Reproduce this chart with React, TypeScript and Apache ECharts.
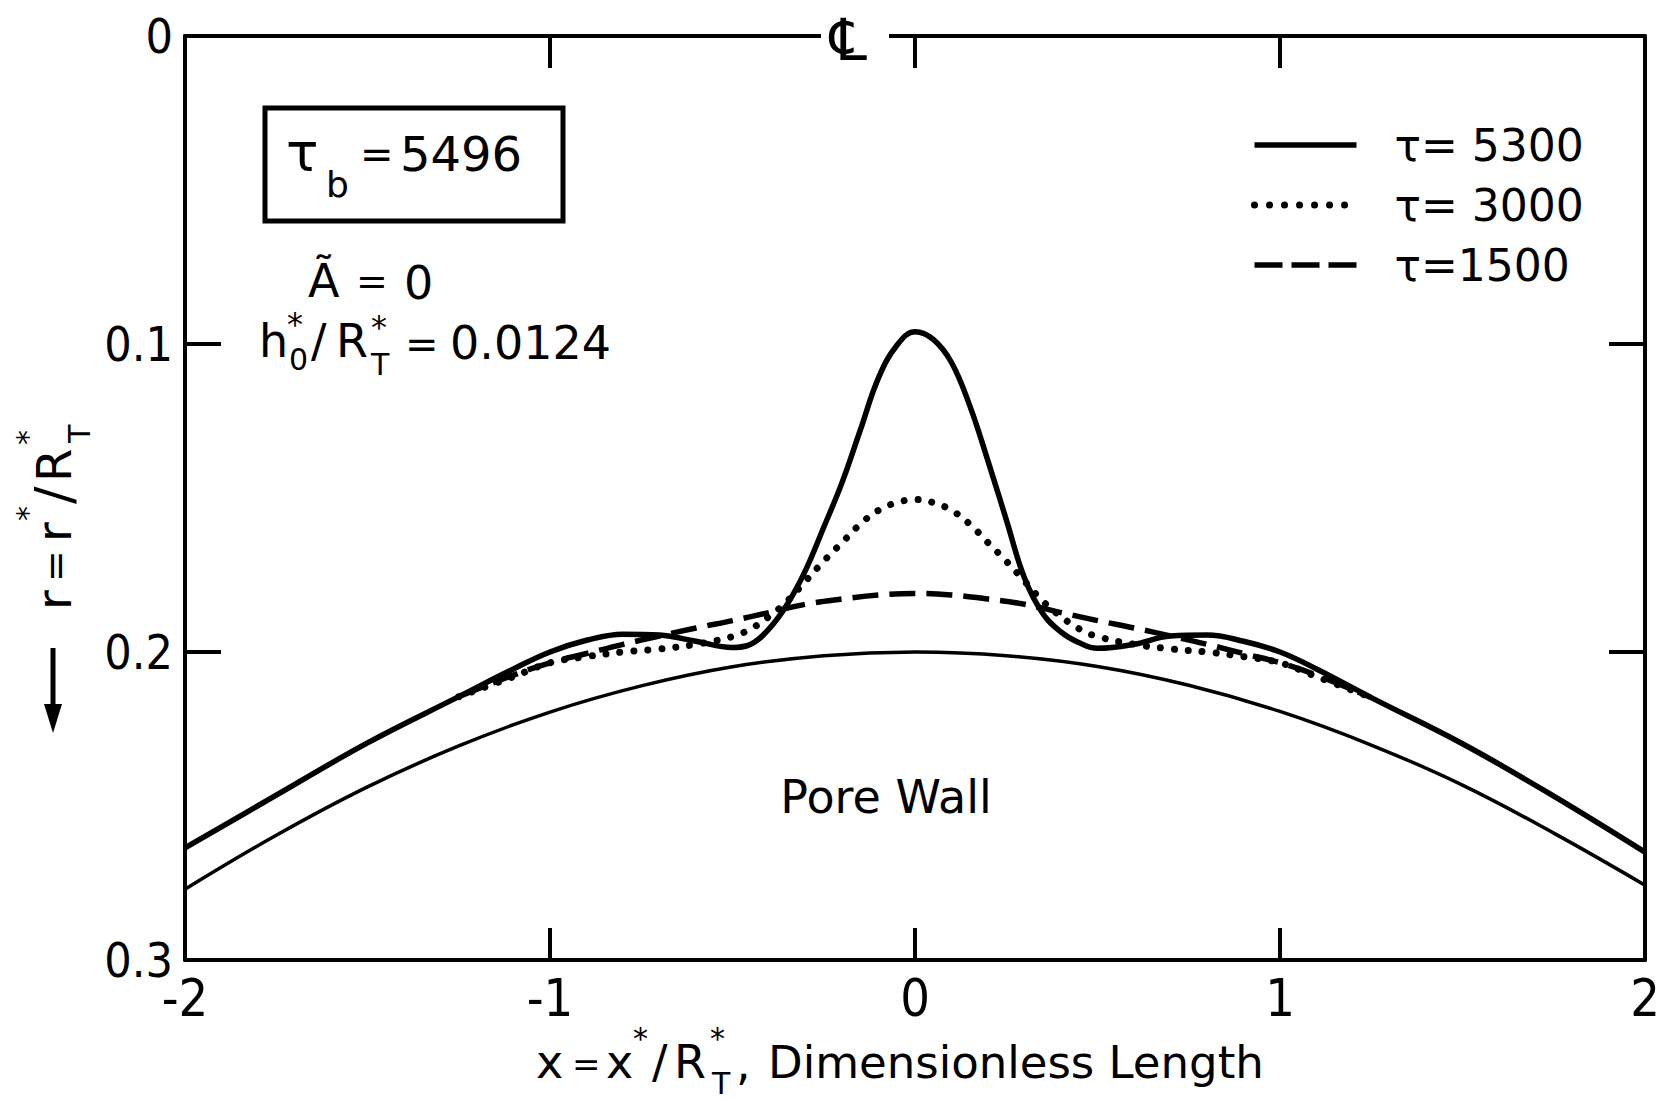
import React, { useEffect, useRef } from "react";
import * as echarts from "echarts";

// ---------- data ----------
const xTickValues = [-2, -1, 0, 1, 2];
const yTickValues = [0, 0.1, 0.2, 0.3];
const topTickValues = [-1, 0, 1];

const seriesNames = ["τ= 5300", "τ= 3000", "τ=1500"];

// Pore wall (thin solid)
const wallX = [-2, -1.75, -1.5, -1.25, -1, -0.75, -0.5, -0.25, 0, 0.25, 0.5, 0.75, 1, 1.25, 1.5, 1.75, 2];
const wallR = [0.277, 0.2595, 0.2438, 0.2305, 0.2195, 0.211, 0.2048, 0.2012, 0.2, 0.2012, 0.2047, 0.2108, 0.2193, 0.2302, 0.2432, 0.2588, 0.2757];

// tau = 5300 (thick solid)
const t5300X = [-2, -1.75, -1.5, -1.25, -1.1, -1.0, -0.9, -0.8, -0.7, -0.6, -0.5, -0.45, -0.4, -0.35, -0.3, -0.25, -0.2, -0.15, -0.1, -0.05, 0,
  0.05, 0.1, 0.15, 0.2, 0.25, 0.3, 0.35, 0.4, 0.45, 0.5, 0.6, 0.7, 0.8, 0.9, 1.0, 1.1, 1.25, 1.5, 1.75, 2];
const t5300R = [0.2636, 0.2465, 0.2295, 0.2145, 0.2055, 0.2, 0.1962, 0.1942, 0.1945, 0.1965, 0.1985, 0.1975, 0.1925, 0.1845, 0.1735, 0.1595, 0.145, 0.128, 0.111, 0.1005, 0.096,
  0.0985, 0.106, 0.12, 0.138, 0.157, 0.176, 0.1875, 0.1935, 0.197, 0.1988, 0.1975, 0.1948, 0.1945, 0.1965, 0.2, 0.2055, 0.2148, 0.2298, 0.2468, 0.265];

// tau = 3000 (dotted)
const t3000X = [-1.25, -1.1, -1.0, -0.9, -0.8, -0.7, -0.6, -0.5, -0.45, -0.4, -0.35, -0.3, -0.25, -0.2, -0.15, -0.1, -0.05, 0,
  0.05, 0.1, 0.15, 0.2, 0.25, 0.3, 0.35, 0.4, 0.45, 0.5, 0.6, 0.7, 0.8, 0.9, 1.0, 1.1, 1.25];
const t3000R = [0.2145, 0.208, 0.2035, 0.2015, 0.2, 0.199, 0.1975, 0.195, 0.1925, 0.1885, 0.1835, 0.177, 0.1705, 0.1645, 0.1585, 0.154, 0.1515, 0.1505,
  0.1515, 0.154, 0.1585, 0.1645, 0.1705, 0.177, 0.1835, 0.1885, 0.1925, 0.195, 0.1975, 0.199, 0.2, 0.2015, 0.2035, 0.208, 0.2148];

// tau = 1500 (dashed)
const t1500X = [-1.25, -1.1, -1.0, -0.9, -0.8, -0.7, -0.6, -0.5, -0.4, -0.3, -0.2, -0.1, 0, 0.1, 0.2, 0.3, 0.4, 0.5, 0.6, 0.7, 0.8, 0.9, 1.0, 1.1, 1.25];
const t1500R = [0.2145, 0.2075, 0.2035, 0.2005, 0.1975, 0.1948, 0.1922, 0.1898, 0.1872, 0.1845, 0.1828, 0.1815, 0.181, 0.1815, 0.1828, 0.1845, 0.1872, 0.1898, 0.1922, 0.1948, 0.1975, 0.2005, 0.2035, 0.2075, 0.2148];

const TICK_FONT = "'DejaVu Sans Condensed', 'DejaVu Sans', sans-serif";
const ANNOT_FONT = "'DejaVu Sans', sans-serif";

const GRID_TOP = 36;
const GRID_BOTTOM = 141;
const TICK_PX = 32;

const pairs = (xs: number[], ys: number[]) => xs.map((x, i) => [x, ys[i]]);

const txt = (text: string, x: number, y: number, size: number, extra: any = {}) => ({
  type: "text",
  x,
  y,
  z: 100,
  style: {
    text,
    fontSize: size,
    fontFamily: ANNOT_FONT,
    fill: "#000",
    textAlign: "left",
    textVerticalAlign: "middle",
    ...extra,
  },
});

export default function App() {
  const ref = useRef<HTMLDivElement>(null);

  useEffect(() => {
    if (!ref.current) return;
    const chart = echarts.init(ref.current, undefined, { renderer: "svg" });

    const axisLine = { show: true, onZero: false, lineStyle: { color: "#000", width: 4 } };
    const xTick = { show: true, inside: true, length: TICK_PX, lineStyle: { color: "#000", width: 4 } };
    const yTick = { show: true, inside: true, length: 36, lineStyle: { color: "#000", width: 4 } };
    const yMin = yTickValues[0];
    const yMax = yTickValues[yTickValues.length - 1];

    const graphic: any[] = [
      // centre-line mark on the top axis
      { type: "rect", z: 100, shape: { x: 821, y: 26, width: 68, height: 20 }, style: { fill: "#fff" } },
      txt("℄", 830, 40, 58),
      // tau_b box
      { type: "rect", z: 100, shape: { x: 265, y: 108, width: 298, height: 113 }, style: { fill: "none", stroke: "#000", lineWidth: 5 } },
      txt("τ", 286, 152, 54),
      txt("b", 326, 184, 36),
      txt("=", 360, 154, 40),
      txt("5496", 400, 154, 48),
      // A~ = 0
      txt("Ã", 308, 281, 46),
      txt("=", 356, 281, 38),
      txt("0", 404, 283, 46),
      // h0*/RT* = 0.0124
      txt("h", 259, 341, 46),
      txt("*", 287, 324, 32),
      txt("0", 289, 359, 30),
      txt("/", 311, 341, 46),
      txt("R", 336, 341, 46),
      txt("*", 371, 327, 32),
      txt("T", 371, 364, 30),
      txt("=", 405, 344, 40),
      txt("0.0124", 450, 343, 46),
      // Pore Wall
      txt("Pore Wall", 886, 797, 46, { textAlign: "center" }),
      // x-axis title
      txt("x", 536, 1062, 46),
      txt("=", 572, 1064, 34),
      txt("x", 606, 1062, 46),
      txt("*", 633, 1038, 30),
      txt("/", 652, 1062, 46),
      txt("R", 674, 1062, 46),
      txt("*", 710, 1038, 30),
      txt("T", 712, 1083, 30),
      txt(",", 736, 1064, 46),
      txt("Dimensionless Length", 768, 1062, 45),
      // y-axis title (rotated)
      {
        type: "group",
        x: 70,
        y: 610,
        rotation: Math.PI / 2,
        z: 100,
        children: [
          txt("r", 0, -16, 48),
          txt("=", 28, -15, 38),
          txt("r", 68, -16, 48),
          txt("*", 89, -43, 30),
          txt("/", 106, -16, 52),
          txt("R", 128, -16, 48),
          txt("*", 165, -43, 30),
          txt("T", 167, 9, 30),
        ],
      },
      // arrow
      { type: "line", z: 100, shape: { x1: 53, y1: 648, x2: 53, y2: 712 }, style: { stroke: "#000", lineWidth: 5 } },
      { type: "polygon", z: 100, shape: { points: [[44, 704], [62, 704], [53, 733]] }, style: { fill: "#000" } },
    ];

    const option: any = {
      animation: false,
      backgroundColor: "#fff",
      grid: { left: 185, right: 19, top: GRID_TOP, bottom: GRID_BOTTOM, containLabel: false },
      legend: {
        data: [
          { name: seriesNames[0], lineStyle: { width: 5.5 } },
          { name: seriesNames[1], lineStyle: { width: 7, type: [0.01, 15], cap: "round" } },
          { name: seriesNames[2], lineStyle: { width: 5.5, type: [28, 9] } },
        ],
        orient: "vertical",
        left: 1246,
        top: 116,
        itemWidth: 102,
        itemHeight: 20,
        itemGap: 12,
        itemStyle: { opacity: 0 },
        textStyle: { fontSize: 44, fontFamily: ANNOT_FONT, color: "#000", padding: [0, 0, 0, 33], lineHeight: 48 },
      },
      xAxis: [
        {
          type: "value",
          position: "bottom",
          min: xTickValues[0],
          max: xTickValues[xTickValues.length - 1],
          interval: 1,
          axisLine,
          axisTick: xTick,
          splitLine: { show: false },
          axisLabel: {
            fontSize: 52,
            fontFamily: TICK_FONT,
            color: "#000",
            margin: 12,
            formatter: (v: number) => {
              const idx = xTickValues.indexOf(Math.round(v));
              const t = xTickValues[idx];
              return t < 0 ? "-" + Math.abs(t) : String(t);
            },
          },
        },
        {
          type: "value",
          position: "top",
          min: xTickValues[0],
          max: xTickValues[xTickValues.length - 1],
          interval: 1,
          axisLine,
          axisTick: { show: false },
          splitLine: { show: false },
          axisLabel: { show: false },
        },
      ],
      yAxis: [
        {
          type: "value",
          position: "left",
          inverse: true,
          min: yMin,
          max: yMax,
          interval: 0.1,
          axisLine,
          axisTick: yTick,
          splitLine: { show: false },
          axisLabel: {
            fontSize: 48,
            fontFamily: TICK_FONT,
            color: "#000",
            margin: 12,
            formatter: (v: number) => {
              const r = Math.round(v * 10) / 10;
              const idx = yTickValues.indexOf(r);
              return idx === 0 ? "0" : r.toFixed(1);
            },
          },
        },
        {
          type: "value",
          position: "right",
          inverse: true,
          min: yMin,
          max: yMax,
          interval: 0.1,
          axisLine,
          axisTick: { ...yTick },
          splitLine: { show: false },
          axisLabel: { show: false },
        },
      ],
      series: [
        {
          name: "Pore Wall",
          type: "line",
          data: pairs(wallX, wallR),
          smooth: 0.4,
          symbol: "none",
          lineStyle: { color: "#000", width: 3.5 },
          z: 2,
        },
        {
          name: seriesNames[2],
          type: "line",
          data: pairs(t1500X, t1500R),
          smooth: 0.4,
          symbol: "none",
          itemStyle: { color: "#000" },
          lineStyle: { color: "#000", width: 5.5, type: [26, 11], cap: "butt" },
          z: 3,
        },
        {
          name: seriesNames[1],
          type: "line",
          data: pairs(t3000X, t3000R),
          smooth: 0.4,
          symbol: "none",
          itemStyle: { color: "#000" },
          lineStyle: { color: "#000", width: 7, type: [0.01, 14], cap: "round" },
          z: 4,
        },
        {
          name: seriesNames[0],
          type: "line",
          data: pairs(t5300X, t5300R),
          smooth: 0.4,
          symbol: "none",
          itemStyle: { color: "#000" },
          lineStyle: { color: "#000", width: 5.5 },
          z: 5,
        },
      ],
      graphic,
    };

    chart.setOption(option);

    // inward ticks on the top frame, placed through the chart's own x scale
    const topTicks = topTickValues.map((v, i) => {
      const p = chart.convertToPixel({ xAxisIndex: 0, yAxisIndex: 0 }, [v, yMin]) as number[];
      return {
        type: "line",
        id: "topTick" + i,
        z: 100,
        shape: { x1: p[0], y1: p[1], x2: p[0], y2: p[1] + TICK_PX },
        style: { stroke: "#000", lineWidth: 4 },
      };
    });
    chart.setOption({ ...option, graphic: [...graphic, ...topTicks] }, true);

    return () => chart.dispose();
  }, []);

  return <div ref={ref} style={{ position: "absolute", left: 0, top: 0, width: 1664, height: 1101 }} />;
}
